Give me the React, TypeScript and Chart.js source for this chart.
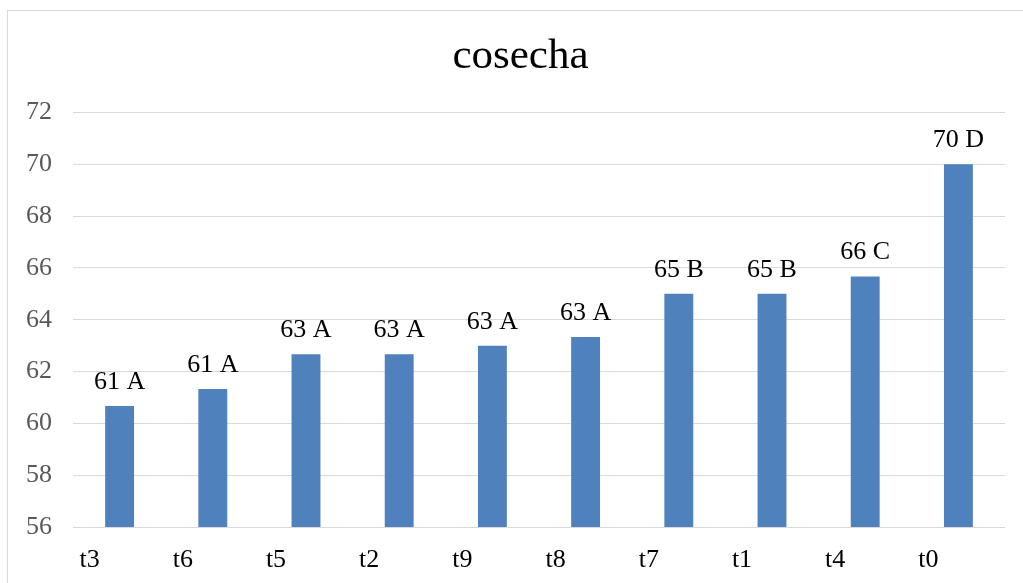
import React, { useEffect, useRef } from "react";
import { Chart, registerables } from "chart.js";

Chart.register(...registerables);

const categories = ["t3", "t6", "t5", "t2", "t9", "t8", "t7", "t1", "t4", "t0"];
const values = [60.67, 61.33, 62.67, 62.67, 63, 63.33, 65, 65, 65.67, 70];
const pointLabels = ["61 A", "61 A", "63 A", "63 A", "63 A", "63 A", "65 B", "65 B", "66 C", "70 D"];
const titleText = "cosecha";
const yMin = 56;
const yMax = 72;
const yStep = 2;

const SERIF = "'Liberation Serif', 'Times New Roman', serif";

const labelPlugin = {
  id: "barLabels",
  afterDatasetsDraw(chart: any) {
    const ctx = chart.ctx;
    const meta = chart.getDatasetMeta(0);
    ctx.save();
    ctx.font = `26px ${SERIF}`;
    ctx.fillStyle = "#000000";
    ctx.textAlign = "center";
    ctx.textBaseline = "alphabetic";
    meta.data.forEach((bar: any, i: number) => {
      ctx.fillText(pointLabels[i], bar.x, bar.y - 17);
    });
    ctx.restore();
  },
};

const titlePlugin = {
  id: "centeredTitle",
  afterDraw(chart: any) {
    const ctx = chart.ctx;
    ctx.save();
    ctx.font = `43px ${SERIF}`;
    ctx.fillStyle = "#000000";
    ctx.textAlign = "center";
    ctx.textBaseline = "alphabetic";
    ctx.fillText(titleText, chart.width / 2 + 5, 57);
    ctx.restore();
  },
};

export default function App() {
  const ref = useRef<HTMLCanvasElement | null>(null);
  useEffect(() => {
    if (!ref.current) return;
    const chart = new Chart(ref.current, {
      type: "bar",
      data: {
        labels: categories,
        datasets: [
          {
            data: values,
            backgroundColor: "#4F81BD",
            borderWidth: 0,
            categoryPercentage: 1,
            barPercentage: 0.31,
          },
        ],
      },
      options: {
        responsive: false,
        animation: false,
        layout: { padding: { left: 0, right: 18, top: 101.5, bottom: 0 } },
        plugins: {
          legend: { display: false },
          tooltip: { enabled: false },
          title: { display: false },
        },
        scales: {
          x: {
            grid: { display: false },
            border: { display: false },
            ticks: {
              color: "#000000",
              font: { family: SERIF, size: 26 },
              labelOffset: -30,
              padding: 10,
              maxRotation: 0,
              autoSkip: false,
            },
            afterFit(scale: any) {
              scale.height = 56;
            },
          },
          y: {
            min: yMin,
            max: yMax,
            grid: { color: "#d9d9d9", lineWidth: 1, drawTicks: false },
            border: { display: false },
            ticks: {
              stepSize: yStep,
              color: "#595959",
              font: { family: SERIF, size: 26 },
              padding: 21,
            },
            afterFit(scale: any) {
              scale.width = 65;
            },
          },
        },
      },
      plugins: [labelPlugin, titlePlugin],
    });
    return () => chart.destroy();
  }, []);

  return (
    <div
      style={{
        position: "fixed",
        left: 7,
        top: 10,
        width: 1030,
        height: 590,
        border: "1px solid #d9d9d9",
        background: "#ffffff",
      }}
    >
      <canvas
        ref={ref}
        width={1015}
        height={572}
        style={{ display: "block", width: 1015, height: 572 }}
      />
    </div>
  );
}
